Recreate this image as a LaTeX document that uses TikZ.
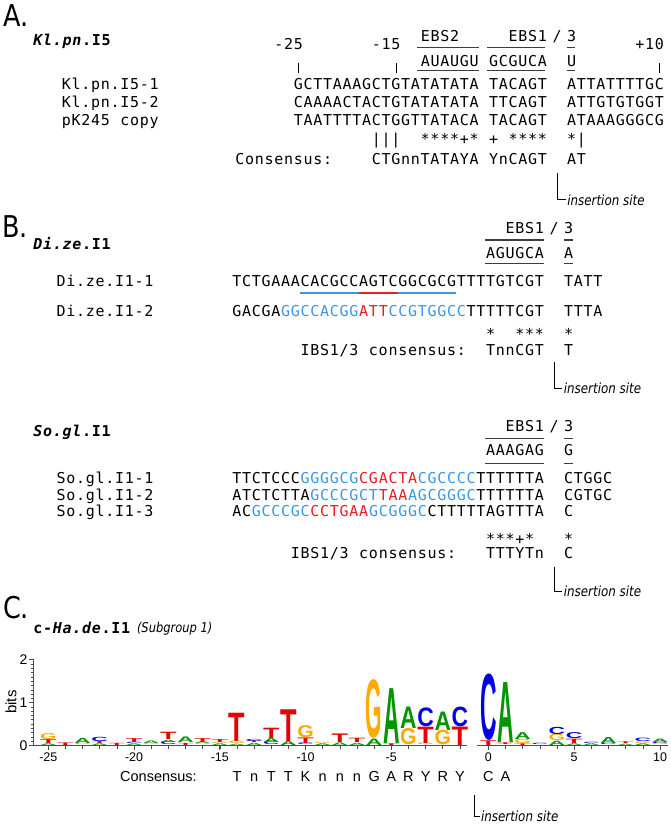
\documentclass[tikz,border=0pt]{standalone}
\usepackage{fontspec}
\usepackage{graphicx}
\newfontfamily\mono{DejaVu Sans Mono}
\newfontfamily\sansc[FakeStretch=0.85]{DejaVu Sans}
\newfontfamily\lsans{Liberation Sans}
\definecolor{sqblue}{RGB}{60,150,230}
\definecolor{sqred}{RGB}{232,30,36}
\definecolor{lgA}{RGB}{0,150,0}
\definecolor{lgC}{RGB}{0,0,230}
\definecolor{lgG}{RGB}{255,170,0}
\definecolor{lgT}{RGB}{230,0,0}
\definecolor{rulec}{RGB}{60,60,60}
\newlength\cw \setlength\cw{9.76pt}
\makeatletter
\def\sq#1{\sq@#1\@nil}
\def\sq@#1{\ifx#1\@nil\else\sq@c{#1}\expandafter\sq@\fi}
\def\sq@c#1{\ifx#1_\hbox to\cw{}\else\hbox to\cw{\hss#1\hss}\fi}
\makeatother
\newcommand\LL[4]{%
 \pgfmathsetmacro\llx{ifthenelse(#1<0,48.3+(#1+25)*17.15,488.3+(#1)*17.17)}%
 \pgfmathsetmacro\lly{745-(#3)*42.85}%
 \pgfmathsetmacro\llh{(#4)*42.85}%
 \node[anchor=south,inner sep=0pt,outer sep=0pt,text=lg#2] at (\llx,\lly) {\resizebox*{16.5pt}{\llh pt}{\lsans\bfseries #2}};}
\newcommand\lpx[1]{ifthenelse(#1<0,48.3+(#1+25)*17.15,488.3+(#1)*17.17)}
\tikzset{
 sqtxt/.style={anchor=base west,inner sep=0pt,outer sep=0pt,font=\mono\fontsize{15}{17}\selectfont},
 sqmid/.style={anchor=base,inner sep=0pt,outer sep=0pt,font=\mono\fontsize{15}{17}\selectfont},
 ttl/.style={anchor=base west,inner sep=0pt,outer sep=0pt,font=\mono\bfseries\fontsize{15}{17}\selectfont},
 pnl/.style={anchor=base west,inner sep=0pt,outer sep=0pt,font=\sansc\fontsize{30}{32}\selectfont},
 insl/.style={anchor=base west,inner sep=0pt,outer sep=0pt,font=\sansc\itshape\fontsize{14}{16}\selectfont},
 ulr/.style={draw=rulec,line width=1.1pt},
 brk/.style={draw=black,line width=0.8pt},
 axl/.style={draw=black!70,line width=0.9pt},
 tkl/.style={anchor=base,inner sep=0pt,outer sep=0pt,font=\lsans\fontsize{12.5}{14}\selectfont},
 lcons/.style={anchor=base,inner sep=0pt,outer sep=0pt,font=\lsans\fontsize{14.5}{16}\selectfont},
 cul/.style={line width=2.6pt}
}
\begin{document}
\begin{tikzpicture}[x=1pt,y=-1pt]
\useasboundingbox (0,0) rectangle (670,827);
\fill[white] (0,0) rectangle (670,827);
% ---------------- Panel A ----------------
\node[pnl] (pA) at (3,27) {A.};
\node[ttl] (tA) at (33,45) {{\itshape\sq{Kl.pn}}\sq{.I5}};
\node[sqtxt] (la1) at (61.5,89.3) {\sq{Kl.pn.I5-1}};
\node[sqtxt] (la2) at (61.5,107.5) {\sq{Kl.pn.I5-2}};
\node[sqtxt] (la3) at (61.5,125) {\sq{pK245_copy}};
\begin{scope}[xshift=293.5pt,x=9.76pt]
\node[sqtxt] (n25) at (-2,49) {\sq{-25}};
\node[sqtxt] (n15) at (8,49) {\sq{-15}};
\node[sqtxt] (n10) at (35,49) {\sq{+10}};
\draw[line width=0.8pt] (0.5,62.5) -- (0.5,73) (10.5,62.5) -- (10.5,73) (37.5,62.5) -- (37.5,73);
\node[sqtxt] (ebs2) at (13,41) {\sq{EBS2}};
\node[sqtxt] (ebs1a) at (22,41) {\sq{EBS1}};
\node[sqmid] (sla) at (27,41) {/};
\node[sqtxt] (e3a) at (28,41) {\sq{3}};
\draw[ulr] (12.65,47.7) -- (19,47.7) (19.83,47.7) -- (25.77,47.7) (28,47.7) -- (28.85,47.7);
\node[sqtxt] (aua) at (13,66) {\sq{AUAUGU}};
\node[sqtxt] (gcg) at (20,66) {\sq{GCGUCA}};
\node[sqtxt] (ua) at (28,66) {\sq{U}};
\draw[ulr] (12.65,70.5) -- (19,70.5) (19.83,70.5) -- (25.77,70.5) (28,70.5) -- (28.85,70.5);
\node[sqtxt] (sa1) at (0,89.3) {\sq{GCTTAAAGCTGTATATATA_TACAGT__ATTATTTTGC}};
\node[sqtxt] (sa2) at (0,107.5) {\sq{CAAAACTACTGTATATATA_TTCAGT__ATTGTGTGGT}};
\node[sqtxt] (sa3) at (0,125) {\sq{TAATTTTACTGGTTATACA_TACAGT__ATAAAGGGCG}};
\node[sqtxt] (ca) at (8,144.5) {\sq{|||__****+*_+_****__*|}};
\node[sqtxt] (cla) at (-6,164) {\sq{Consensus:}};
\node[sqtxt] (csa) at (8,164) {\sq{CTGnnTATAYA_YnCAGT__AT}};
\node[insl] (insa) at (28.05,205) {insertion site};
\coordinate (ia) at (27,173);
\draw[brk] (ia) |- ([xshift=-1.5pt]insa.west);
\end{scope}
% ---------------- Panel B ----------------
\node[pnl] (pB) at (2,237) {B.};
\node[ttl] (tB) at (33,249.5) {{\itshape\sq{Di.ze}}\sq{.I1}};
\node[sqtxt] (lb1) at (56.3,286.7) {\sq{Di.ze.I1-1}};
\node[sqtxt] (lb2) at (56.3,316.7) {\sq{Di.ze.I1-2}};
\node[ttl] (tS) at (33,436.7) {{\itshape\sq{So.gl}}\sq{.I1}};
\node[sqtxt] (ls1) at (56.3,483.4) {\sq{So.gl.I1-1}};
\node[sqtxt] (ls2) at (56.3,500) {\sq{So.gl.I1-2}};
\node[sqtxt] (ls3) at (56.3,516.4) {\sq{So.gl.I1-3}};
\begin{scope}[xshift=232pt,x=9.76pt]
% Di.ze
\node[sqtxt] (ebs1b) at (28,233.4) {\sq{EBS1}};
\node[sqmid] (slb) at (33,233.4) {/};
\node[sqtxt] (e3b) at (34,233.4) {\sq{3}};
\draw[ulr] (25.95,240) -- (31.95,240) (34,240) -- (34.9,240);
\node[sqtxt] (agu) at (26,258.4) {\sq{AGUGCA}};
\node[sqtxt] (ab) at (34,258.4) {\sq{A}};
\draw[ulr] (25.95,263.6) -- (31.95,263.6) (34,263.6) -- (34.9,263.6);
\node[sqtxt] (sb1) at (0,286.7) {\sq{TCTGAAACACGCCAGTCGGCGCGTTTTGTCGT__TATT}};
\draw[cul,sqblue] (7,292.9) -- (13,292.9);
\draw[cul,sqred] (13,292.9) -- (17,292.9);
\draw[cul,sqblue] (17,292.9) -- (23,292.9);
\node[sqtxt] (sb2) at (0,316.7) {\sq{GACGA}\textcolor{sqblue}{\sq{GGCCACGG}}\textcolor{sqred}{\sq{ATT}}\textcolor{sqblue}{\sq{CCGTGGCC}}\sq{TTTTTCGT__TTTA}};
\node[sqtxt] (stb) at (26,339) {\sq{*__***__*}};
\node[sqtxt] (csb) at (7,355) {\sq{IBS1/3_consensus:__TnnCGT__T}};
\node[insl] (insb) at (34,393.5) {insertion site};
\coordinate (ib) at (33,361.7);
\draw[brk] (ib) |- ([xshift=-1.5pt]insb.west);
% So.gl
\node[sqtxt] (ebs1s) at (28,431.7) {\sq{EBS1}};
\node[sqmid] (sls) at (33,431.7) {/};
\node[sqtxt] (e3s) at (34,431.7) {\sq{3}};
\draw[ulr] (25.95,438.3) -- (31.95,438.3) (34,438.3) -- (34.9,438.3);
\node[sqtxt] (aaa) at (26,455) {\sq{AAAGAG}};
\node[sqtxt] (gs) at (34,455) {\sq{G}};
\draw[ulr] (25.95,463.6) -- (31.95,463.6) (34,463.6) -- (34.9,463.6);
\node[sqtxt] (ss1) at (0,483.4) {\sq{TTCTCCC}\textcolor{sqblue}{\sq{GGGGCG}}\textcolor{sqred}{\sq{CGACTA}}\textcolor{sqblue}{\sq{CGCCCC}}\sq{TTTTTTA__CTGGC}};
\node[sqtxt] (ss2) at (0,500) {\sq{ATCTCTTA}\textcolor{sqblue}{\sq{GCCCGCT}}\textcolor{sqred}{\sq{TAA}}\textcolor{sqblue}{\sq{AGCGGGC}}\sq{TTTTTTA__CGTGC}};
\node[sqtxt] (ss3) at (0,516.4) {\sq{AC}\textcolor{sqblue}{\sq{GCCCGC}}\textcolor{sqred}{\sq{CCTGAA}}\textcolor{sqblue}{\sq{GCGGGC}}\sq{CTTTTTAGTTTA__C}};
\node[sqtxt] (sts) at (26,544) {\sq{***+*___*}};
\node[sqtxt] (css) at (6,558.4) {\sq{IBS1/3_consensus:___TTTYTn__C}};
\node[insl] (inss) at (34,596.8) {insertion site};
\coordinate (is) at (33,566.7);
\draw[brk] (is) |- ([xshift=-1.5pt]inss.west);
\end{scope}
% ---------------- Panel C ----------------
\node[pnl] (pC) at (3,618) {C.};
\node[ttl] (tC) at (33,633.5) {\sq{c-}{\itshape\sq{Ha.de}}\sq{.I1}};
\node[insl,font=\sansc\itshape\fontsize{13.5}{15}\selectfont] (sub) at (137,632.5) {(Subgroup 1)};
% axes
\draw[axl] (33,659.3) -- (33,745.5);
\draw[axl] (33,745.5) -- (467,745.5);
\draw[axl] (477,745.5) -- (668,745.5);
\foreach \b in {0,1,2} {\draw[axl] (33,{745.5-\b*42.85}) -- (28.5,{745.5-\b*42.85});
  \node[anchor=east,inner sep=0pt,font=\lsans\fontsize{14}{16}\selectfont] at (27.5,{745.5-\b*42.85}) {\b};}
\foreach \b in {1,...,19} {\draw[axl,line width=0.6pt] (33,{745.5-\b*4.285}) -- (30.5,{745.5-\b*4.285});}
\node[rotate=90,inner sep=0pt,font=\lsans\fontsize{15}{17}\selectfont] (bits) at (11,702) {bits};
\foreach \p in {-25,...,-1} {\pgfmathsetmacro\tx{\lpx{\p}}\draw[axl,line width=0.6pt] (\tx,745.5) -- (\tx,748.5);}
\foreach \p in {0,...,10} {\pgfmathsetmacro\tx{\lpx{\p}}\draw[axl,line width=0.6pt] (\tx,745.5) -- (\tx,748.5);}
\foreach \p in {-25,-20,-15,-10,-5,0,5,10} {\pgfmathsetmacro\tx{\lpx{\p}}\draw[axl] (\tx,745.5) -- (\tx,750);
  \node[tkl] at (\tx,761.5) {\p};}
% logo letters
\LL{-25}{A}{0}{.04}\LL{-25}{T}{.04}{.09}\LL{-25}{G}{.13}{.14}
\LL{-24}{T}{0}{.06}
\LL{-23}{G}{0}{.03}\LL{-23}{A}{.03}{.12}
\LL{-22}{A}{0}{.04}\LL{-22}{T}{.04}{.05}\LL{-22}{C}{.09}{.10}
\LL{-21}{T}{0}{.05}
\LL{-20}{A}{0}{.04}\LL{-20}{C}{.04}{.03}\LL{-20}{T}{.07}{.09}
\LL{-19}{G}{0}{.03}\LL{-19}{A}{.03}{.06}
\LL{-18}{C}{0}{.07}\LL{-18}{A}{.07}{.05}\LL{-18}{T}{.12}{.17}
\LL{-17}{T}{0}{.05}\LL{-17}{A}{.05}{.13}
\LL{-16}{G}{0}{.03}\LL{-16}{A}{.03}{.04}\LL{-16}{T}{.07}{.09}
\LL{-15}{A}{0}{.04}\LL{-15}{G}{.04}{.03}\LL{-15}{T}{.07}{.07}
\LL{-14}{A}{0}{.03}\LL{-14}{G}{.03}{.06}\LL{-14}{T}{.09}{.66}
\LL{-13}{A}{0}{.05}\LL{-13}{T}{.05}{.04}\LL{-13}{C}{.09}{.05}
\LL{-12}{C}{0}{.07}\LL{-12}{A}{.07}{.09}\LL{-12}{T}{.16}{.24}
\LL{-11}{A}{0}{.09}\LL{-11}{T}{.09}{.74}
\LL{-10}{C}{0}{.04}\LL{-10}{T}{.04}{.13}\LL{-10}{G}{.17}{.28}
\LL{-9}{A}{0}{.04}\LL{-9}{G}{.04}{.03}
\LL{-8}{A}{0}{.06}\LL{-8}{T}{.06}{.2}
\LL{-7}{A}{0}{.05}\LL{-7}{T}{.05}{.1}
\LL{-6}{A}{0}{.15}\LL{-6}{G}{.15}{1.37}
\LL{-5}{T}{0}{.04}\LL{-5}{A}{.04}{1.28}
\LL{-4}{G}{0}{.38}\LL{-4}{A}{.38}{.5}
\LL{-3}{G}{0}{.04}\LL{-3}{T}{.04}{.38}\LL{-3}{C}{.42}{.44}
\LL{-2}{G}{0}{.34}\LL{-2}{A}{.34}{.43}
\LL{-1}{T}{0}{.43}\LL{-1}{C}{.43}{.46}
\LL{0}{T}{0}{.11}\LL{0}{C}{.11}{1.55}
\LL{1}{G}{0}{.02}\LL{1}{T}{.02}{.04}\LL{1}{A}{.06}{1.40}
\LL{2}{T}{0}{.04}\LL{2}{G}{.04}{.1}\LL{2}{A}{.14}{.16}
\LL{3}{C}{0}{.03}
\LL{4}{A}{0}{.1}\LL{4}{G}{.1}{.15}\LL{4}{C}{.25}{.17}
\LL{5}{A}{0}{.04}\LL{5}{T}{.04}{.1}\LL{5}{C}{.14}{.14}
\LL{6}{A}{0}{.04}\LL{6}{C}{.04}{.03}
\LL{7}{C}{0}{.03}\LL{7}{A}{.03}{.14}
\LL{8}{A}{0}{.03}\LL{8}{T}{.03}{.04}
\LL{9}{A}{0}{.04}\LL{9}{G}{.04}{.04}\LL{9}{C}{.08}{.08}
\LL{10}{G}{0}{.04}\LL{10}{C}{.04}{.03}\LL{10}{A}{.07}{.08}
% consensus
\node[anchor=base west,inner sep=0pt,font=\lsans\fontsize{14.5}{16}\selectfont] (clc) at (120,781) {Consensus:};
\foreach \p/\l in {-14/T,-13/n,-12/T,-11/T,-10/K,-9/n,-8/n,-7/n,-6/G,-5/A,-4/R,-3/Y,-2/R,-1/Y,0/C,1/A} {
  \pgfmathsetmacro\tx{\lpx{\p}}\node[lcons] at (\tx,781) {\l};}
\node[insl] (insc) at (481,821.5) {insertion site};
\coordinate (ic) at (474.1,795);
\draw[brk] (ic) |- ([xshift=-1.5pt]insc.west);
\end{tikzpicture}
\end{document}
